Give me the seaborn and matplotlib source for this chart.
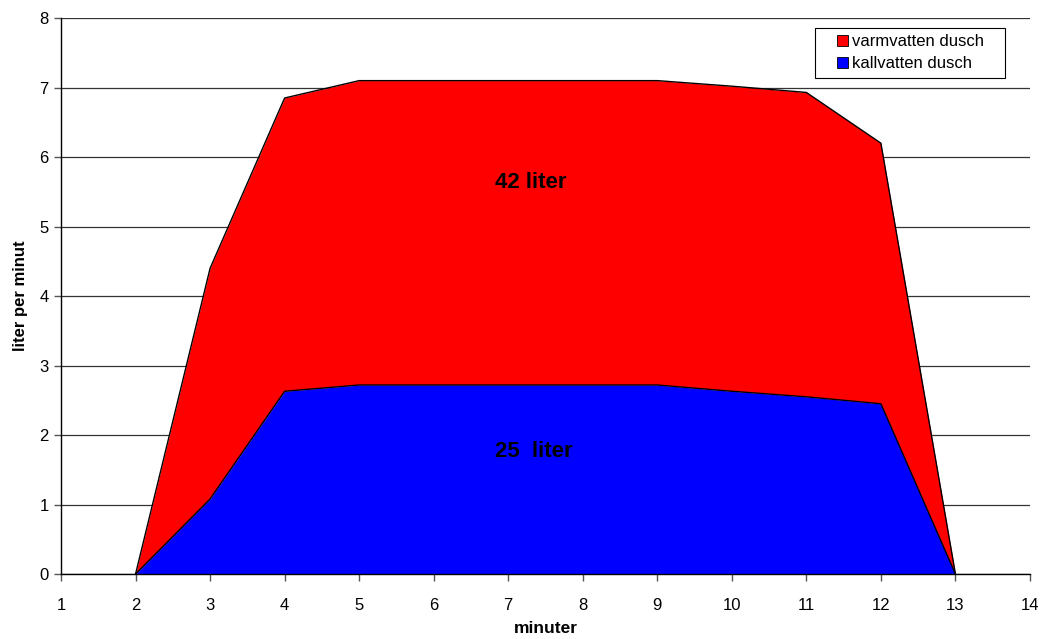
import numpy as np
import pandas as pd
import matplotlib
matplotlib.use("Agg")
import matplotlib.pyplot as plt
import matplotlib.patches as mpatches
import seaborn as sns

# ── Data ───────────────────────────────────────────────────────────────────
minuter = [2, 3, 4, 5, 6, 7, 8, 9, 10, 11, 12, 13]
kallvatten = [0, 1.08, 2.63, 2.72, 2.72, 2.72, 2.72, 2.72, 2.63, 2.55, 2.45, 0]
varmvatten = [0, 3.32, 4.22, 4.38, 4.38, 4.38, 4.38, 4.38, 4.39, 4.38, 3.75, 0]

serie_namn = ["varmvatten dusch", "kallvatten dusch"]
farger = {"varmvatten dusch": "#ff0000", "kallvatten dusch": "#0000ff"}
etiketter = [("42 liter", 7.3, 5.64), ("25  liter", 7.35, 1.76)]

# ── Stil ───────────────────────────────────────────────────────────────────
sns.set_style("white")
plt.rcParams["font.family"] = ["Liberation Sans", "DejaVu Sans"]
plt.rcParams["text.color"] = "black"
plt.rcParams["axes.labelcolor"] = "black"
plt.rcParams["xtick.color"] = "black"
plt.rcParams["ytick.color"] = "black"

df = pd.DataFrame({"minuter": minuter,
                   "kallvatten dusch": kallvatten,
                   "varmvatten dusch": np.array(kallvatten) + np.array(varmvatten)})

W, H = 1043, 639
fig = plt.figure(figsize=(W / 100, H / 100), dpi=100)
ax = fig.add_axes([0.0585, 0.1017, 0.929, 0.870])

# fyllda ytor (staplade)
ax.fill_between(df["minuter"], df["kallvatten dusch"], df["varmvatten dusch"],
                color=farger["varmvatten dusch"], lw=0, zorder=2)
ax.fill_between(df["minuter"], 0, df["kallvatten dusch"],
                color=farger["kallvatten dusch"], lw=0, zorder=2)

# konturer
sns.lineplot(data=df, x="minuter", y="varmvatten dusch", color="black",
             lw=1, ax=ax, zorder=3)
sns.lineplot(data=df, x="minuter", y="kallvatten dusch", color="black",
             lw=1, ax=ax, zorder=3)

for txt, x, y in etiketter:
    ax.text(x, y, txt, ha="center", va="center", fontsize=16,
            fontweight="bold", color="black", zorder=4)

ax.set_xlim(1, 14)
ax.set_ylim(0, 8)
ax.set_xticks(range(1, 15))
ax.set_yticks(range(0, 9))
ax.yaxis.grid(True, color="#333333", lw=0.9, zorder=1)
ax.set_axisbelow(True)
for s in ["top", "right"]:
    ax.spines[s].set_visible(False)
for s in ["left", "bottom"]:
    ax.spines[s].set_color("black")
    ax.spines[s].set_linewidth(1)
    ax.spines[s].set_zorder(5)
ax.tick_params(axis="both", bottom=True, left=True, direction="out", length=5,
               width=1, color="#555555", labelsize=12, pad=4)
ax.tick_params(axis="x", pad=12)
ax.set_xlabel("minuter", fontsize=12.5, fontweight="bold", labelpad=6)
ax.set_ylabel("liter per minut", fontsize=12, fontweight="bold", labelpad=8)

# legend: ram ritas separat för bredare sidomarginal
handles = [mpatches.Patch(facecolor=farger[n], edgecolor="black", lw=0.6, label=n)
           for n in serie_namn]
leg = fig.legend(handles=handles, loc="upper left",
                 bbox_to_anchor=(837 / W, (H - 34) / H), bbox_transform=fig.transFigure,
                 frameon=False, fontsize=12, handlelength=0.66, handleheight=0.66,
                 handletextpad=0.25, borderpad=0, labelspacing=0.45, borderaxespad=0)
fig.patches.append(mpatches.Rectangle((815 / W, (H - 78) / H), 190 / W, 50 / H,
                                      transform=fig.transFigure, facecolor="white",
                                      edgecolor="black", lw=0.8, zorder=5))
leg.set_zorder(6)

plt.savefig("out.png", dpi=100)
